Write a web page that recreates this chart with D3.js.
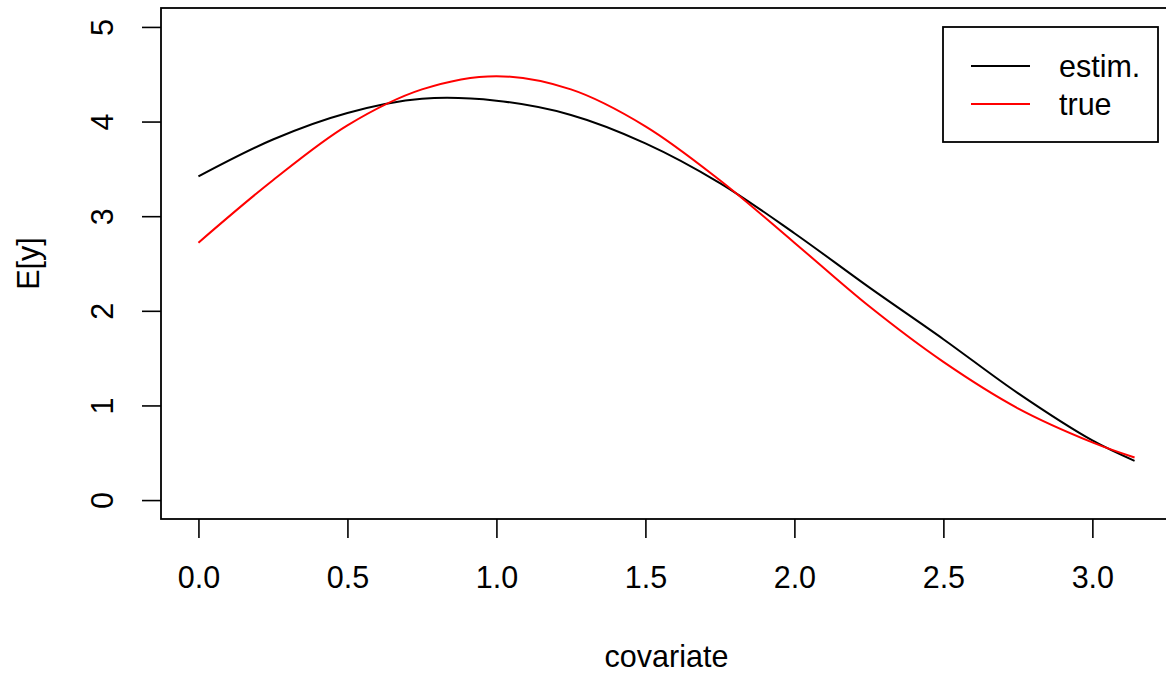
<!DOCTYPE html>
<html>
<head>
<meta charset="utf-8">
<script src="https://cdn.jsdelivr.net/npm/d3@7"></script>
<style>
  body { margin: 0; background: #fff; }
  svg { display: block; font-family: "Liberation Sans", Arial, sans-serif; }
</style>
</head>
<body>
<svg id="chart" width="1166" height="675"></svg>
<script>
// values
const covariate = [0, 0.25, 0.5, 0.75, 1.0, 1.25, 1.5, 1.75, 2.0, 2.25, 2.5, 2.75, 3.0, 3.1416];
const estim = [3.42, 3.81, 4.09, 4.24, 4.22, 4.07, 3.77, 3.35, 2.82, 2.25, 1.70, 1.13, 0.63, 0.415];
const trueVals = [2.72, 3.38, 3.96, 4.34, 4.48, 4.34, 3.95, 3.38, 2.72, 2.05, 1.46, 0.97, 0.61, 0.45];
const xTicks = [0, 0.5, 1.0, 1.5, 2.0, 2.5, 3.0];
const yTicks = [0, 1, 2, 3, 4, 5];
const legendLabels = ["estim.", "true"];
const legendColors = ["#000000", "#ff0000"];

const svg = d3.select("#chart");
const fontSize = "30.5px";

// plot region (R pads the data range by 4%)
const box = { left: 161, top: 8, right: 1172, bottom: 519 };
const xPad = 0.04 * Math.PI;
const x = d3.scaleLinear()
  .domain([-xPad, Math.PI + xPad])
  .range([box.left, box.right]);
const y = d3.scaleLinear()
  .domain([-0.2, 5.2])
  .range([box.bottom, box.top]);

// x axis
const xAxis = svg.append("g")
  .attr("transform", `translate(0,${box.bottom})`)
  .call(d3.axisBottom(x).tickValues(xTicks).tickFormat(d3.format(".1f")).tickSize(19));
xAxis.select(".domain").remove();
xAxis.selectAll(".tick line").attr("stroke", "#000").attr("stroke-width", 1.6);
xAxis.selectAll("text")
  .attr("dy", null)
  .attr("y", 69)
  .attr("fill", "#000")
  .style("font-size", fontSize)
  .style("font-family", "'Liberation Sans', Arial, sans-serif");

// y axis with rotated labels
const yAxis = svg.append("g")
  .attr("transform", `translate(${box.left},0)`)
  .call(d3.axisLeft(y).tickValues(yTicks).tickFormat(d3.format("d")).tickSize(19));
yAxis.select(".domain").remove();
yAxis.selectAll(".tick line").attr("stroke", "#000").attr("stroke-width", 1.6);
yAxis.selectAll("text")
  .attr("dy", null)
  .attr("x", 0)
  .attr("y", -48)
  .attr("text-anchor", "middle")
  .attr("transform", "rotate(-90)")
  .attr("fill", "#000")
  .style("font-size", fontSize)
  .style("font-family", "'Liberation Sans', Arial, sans-serif");

// plot box
svg.append("rect")
  .attr("x", box.left)
  .attr("y", box.top)
  .attr("width", box.right - box.left)
  .attr("height", box.bottom - box.top)
  .attr("fill", "none")
  .attr("stroke", "#000")
  .attr("stroke-width", 1.8);

// axis titles
svg.append("text")
  .attr("x", (box.left + box.right) / 2)
  .attr("y", 667)
  .attr("text-anchor", "middle")
  .style("font-size", fontSize)
  .text("covariate");

svg.append("text")
  .attr("transform", `translate(39,${(box.top + box.bottom) / 2}) rotate(-90)`)
  .attr("text-anchor", "middle")
  .style("font-size", fontSize)
  .text("E[y]");

// curves
const line = d3.line()
  .x((d) => x(d[0]))
  .y((d) => y(d[1]))
  .curve(d3.curveCatmullRom.alpha(0.5));

svg.append("path")
  .datum(d3.zip(covariate, estim))
  .attr("fill", "none")
  .attr("stroke", legendColors[0])
  .attr("stroke-width", 2)
  .attr("d", line);

svg.append("path")
  .datum(d3.zip(covariate, trueVals))
  .attr("fill", "none")
  .attr("stroke", legendColors[1])
  .attr("stroke-width", 2)
  .attr("d", line);

// legend
const legend = svg.append("g");
legend.append("rect")
  .attr("x", 943)
  .attr("y", 27)
  .attr("width", 215)
  .attr("height", 115)
  .attr("fill", "#fff")
  .attr("stroke", "#000")
  .attr("stroke-width", 1.8);

legendLabels.forEach((label, i) => {
  const ly = 66 + i * 38;
  legend.append("line")
    .attr("x1", 971)
    .attr("x2", 1030)
    .attr("y1", ly)
    .attr("y2", ly)
    .attr("stroke", legendColors[i])
    .attr("stroke-width", 2);
  legend.append("text")
    .attr("x", 1059)
    .attr("y", ly + 11)
    .style("font-size", fontSize)
    .text(label);
});
</script>
</body>
</html>
